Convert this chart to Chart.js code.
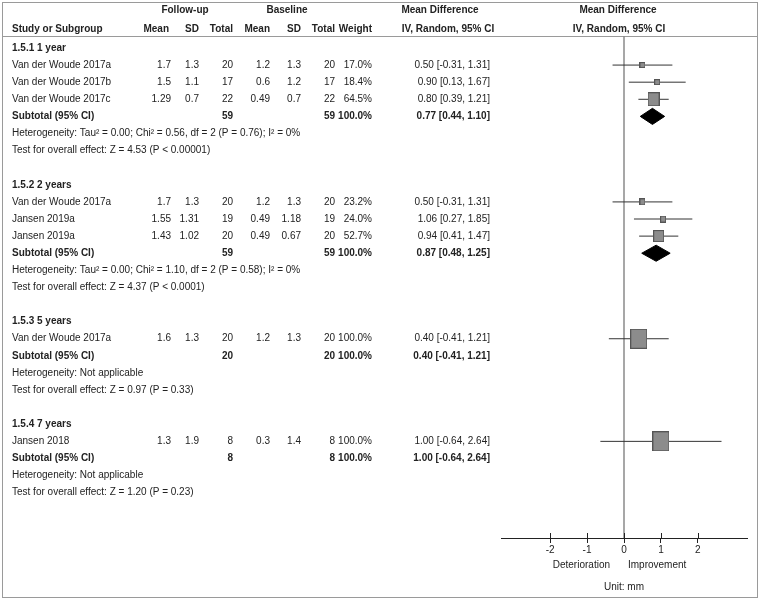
<!DOCTYPE html>
<html>
<head>
<meta charset="utf-8">
<script src="https://cdn.jsdelivr.net/npm/chart.js@4.4.1/dist/chart.umd.min.js"></script>
<style>
  html, body { margin: 0; padding: 0; background: #fff; }
</style>
</head>
<body>
<canvas id="forest" width="760" height="601"></canvas>
<script>
// ---- data ----
const groups = ['1.5.1 1 year', '1.5.2 2 years', '1.5.3 5 years', '1.5.4 7 years'];
const studyGroup = [0, 0, 0, 1, 1, 1, 2, 3];
const studyNames = ['Van der Woude 2017a', 'Van der Woude 2017b', 'Van der Woude 2017c',
  'Van der Woude 2017a', 'Jansen 2019a', 'Jansen 2019a', 'Van der Woude 2017a', 'Jansen 2018'];
const fuMean = [1.7, 1.5, 1.29, 1.7, 1.55, 1.43, 1.6, 1.3];
const fuSD = [1.3, 1.1, 0.7, 1.3, 1.31, 1.02, 1.3, 1.9];
const fuN = [20, 17, 22, 20, 19, 20, 20, 8];
const blMean = [1.2, 0.6, 0.49, 1.2, 0.49, 0.49, 1.2, 0.3];
const blSD = [1.3, 1.2, 0.7, 1.3, 1.18, 0.67, 1.3, 1.4];
const blN = [20, 17, 22, 20, 19, 20, 20, 8];
const weight = [17.0, 18.4, 64.5, 23.2, 24.0, 52.7, 100.0, 100.0];
const md = [0.50, 0.90, 0.80, 0.50, 1.06, 0.94, 0.40, 1.00];
const ciLo = [-0.31, 0.13, 0.39, -0.31, 0.27, 0.41, -0.41, -0.64];
const ciHi = [1.31, 1.67, 1.21, 1.31, 1.85, 1.47, 1.21, 2.64];

const subFuN = [59, 59, 20, 8];
const subBlN = [59, 59, 20, 8];
const subMd = [0.77, 0.87, 0.40, 1.00];
const subLo = [0.44, 0.48, -0.41, -0.64];
const subHi = [1.10, 1.25, 1.21, 2.64];
const heterogeneity = [
  'Heterogeneity: Tau\u00b2 = 0.00; Chi\u00b2 = 0.56, df = 2 (P = 0.76); I\u00b2 = 0%',
  'Heterogeneity: Tau\u00b2 = 0.00; Chi\u00b2 = 1.10, df = 2 (P = 0.58); I\u00b2 = 0%',
  'Heterogeneity: Not applicable',
  'Heterogeneity: Not applicable'
];
const overallEffect = [
  'Test for overall effect: Z = 4.53 (P < 0.00001)',
  'Test for overall effect: Z = 4.37 (P < 0.0001)',
  'Test for overall effect: Z = 0.97 (P = 0.33)',
  'Test for overall effect: Z = 1.20 (P = 0.23)'
];
const xTicks = [-2, -1, 0, 1, 2];

// ---- row layout (row units on the y scale) ----
const Y_MIN = -0.70, Y_MAX = 28.65;
const studyRow = [], subRow = [], groupRow = [], hetRow = [], testRow = [];
let r = 0;
groups.forEach((g, gi) => {
  groupRow[gi] = r++;
  studyGroup.forEach((sg, i) => { if (sg === gi) studyRow[i] = r++; });
  subRow[gi] = r++;
  hetRow[gi] = r++;
  testRow[gi] = r++;
  r++;
});

const FONT = '"Liberation Sans", Arial, sans-serif';
const INK = '#222';
const COL = { fuMean: 171, fuSD: 199, fuN: 233, blMean: 270, blSD: 301, blN: 335, weight: 372, ci: 490 };

// boxes sized by weight
function makeBox(w) {
  const s = 17 * Math.pow(w / 100, 0.75);
  const bw = Math.max(6, Math.round(s));
  const bh = Math.max(6, Math.round(s * 1.18));
  const c = document.createElement('canvas');
  c.width = bw; c.height = bh;
  const g = c.getContext('2d');
  g.fillStyle = '#8c8c8c';
  g.fillRect(0, 0, bw, bh);
  g.strokeStyle = '#555';
  g.lineWidth = 1;
  g.strokeRect(0.5, 0.5, bw - 1, bh - 1);
  return c;
}
const boxes = weight.map(makeBox);

const datasets = [];
datasets.push({
  data: md.map((v, i) => ({ x: v, y: studyRow[i] })),
  showLine: false,
  pointStyle: boxes,
  pointRadius: 6
});
md.forEach((v, i) => {
  datasets.push({
    data: [{ x: ciLo[i], y: studyRow[i] }, { x: ciHi[i], y: studyRow[i] }],
    borderColor: '#333', borderWidth: 1, pointRadius: 0
  });
});
subMd.forEach((v, gi) => {
  const n = studyGroup.filter(g => g === gi).length;
  if (n < 2) return;
  const y = subRow[gi], d = 0.47;
  datasets.push({
    data: [{ x: subLo[gi], y: y }, { x: v, y: y - d }, { x: subHi[gi], y: y },
           { x: v, y: y + d }, { x: subLo[gi], y: y }],
    borderColor: '#000', backgroundColor: '#000', borderWidth: 1,
    pointRadius: 0, fill: 'shape'
  });
});
datasets.push({
  data: [{ x: 0, y: Y_MIN }, { x: 0, y: Y_MAX }],
  borderColor: '#8a8a8a', borderWidth: 1.5, pointRadius: 0
});

function txt(ctx, s, x, y, align, bold) {
  ctx.font = (bold ? 'bold ' : '') + '10px ' + FONT;
  ctx.textAlign = align;
  ctx.textBaseline = 'middle';
  ctx.fillStyle = INK;
  ctx.fillText(s, x, y);
}

const tablePlugin = {
  id: 'table',
  beforeDraw(chart) {
    const ctx = chart.ctx;
    ctx.save();
    ctx.strokeStyle = '#9a9a9a';
    ctx.lineWidth = 1;
    ctx.strokeRect(2.5, 2.5, 755, 595);
    ctx.beginPath();
    ctx.moveTo(2.5, 36.5); ctx.lineTo(757.5, 36.5);
    ctx.stroke();
    ctx.restore();
  },
  afterDraw(chart) {
    const ctx = chart.ctx;
    const ys = chart.scales.y, xs = chart.scales.x;
    const py = v => ys.getPixelForValue(v);
    ctx.save();
    // header
    const h1 = 10, h2 = 29;
    txt(ctx, 'Follow-up', 185, h1, 'center', true);
    txt(ctx, 'Baseline', 287, h1, 'center', true);
    txt(ctx, 'Mean Difference', 440, h1, 'center', true);
    txt(ctx, 'Mean Difference', 618, h1, 'center', true);
    txt(ctx, 'Study or Subgroup', 12, h2, 'left', true);
    txt(ctx, 'Mean', COL.fuMean - 2, h2, 'right', true);
    txt(ctx, 'SD', COL.fuSD, h2, 'right', true);
    txt(ctx, 'Total', COL.fuN, h2, 'right', true);
    txt(ctx, 'Mean', COL.blMean, h2, 'right', true);
    txt(ctx, 'SD', COL.blSD, h2, 'right', true);
    txt(ctx, 'Total', COL.blN, h2, 'right', true);
    txt(ctx, 'Weight', COL.weight, h2, 'right', true);
    txt(ctx, 'IV, Random, 95% CI', 448, h2, 'center', true);
    txt(ctx, 'IV, Random, 95% CI', 619, h2, 'center', true);

    const ci = (m, lo, hi) => m.toFixed(2) + ' [' + lo.toFixed(2) + ', ' + hi.toFixed(2) + ']';
    groups.forEach((g, gi) => {
      txt(ctx, g, 12, py(groupRow[gi]), 'left', true);
      const ys2 = py(subRow[gi]);
      txt(ctx, 'Subtotal (95% CI)', 12, ys2, 'left', true);
      txt(ctx, String(subFuN[gi]), COL.fuN, ys2, 'right', true);
      txt(ctx, String(subBlN[gi]), COL.blN, ys2, 'right', true);
      txt(ctx, '100.0%', COL.weight, ys2, 'right', true);
      txt(ctx, ci(subMd[gi], subLo[gi], subHi[gi]), COL.ci, ys2, 'right', true);
      txt(ctx, heterogeneity[gi], 12, py(hetRow[gi]), 'left', false);
      txt(ctx, overallEffect[gi], 12, py(testRow[gi]), 'left', false);
    });
    studyNames.forEach((s, i) => {
      const y = py(studyRow[i]);
      txt(ctx, s, 12, y, 'left', false);
      txt(ctx, String(fuMean[i]), COL.fuMean, y, 'right', false);
      txt(ctx, String(fuSD[i]), COL.fuSD, y, 'right', false);
      txt(ctx, String(fuN[i]), COL.fuN, y, 'right', false);
      txt(ctx, String(blMean[i]), COL.blMean, y, 'right', false);
      txt(ctx, String(blSD[i]), COL.blSD, y, 'right', false);
      txt(ctx, String(blN[i]), COL.blN, y, 'right', false);
      txt(ctx, weight[i].toFixed(1) + '%', COL.weight, y, 'right', false);
      txt(ctx, ci(md[i], ciLo[i], ciHi[i]), COL.ci, y, 'right', false);
    });

    // upper half of the axis ticks and axis captions
    const bottom = chart.chartArea.bottom;
    ctx.strokeStyle = INK;
    ctx.lineWidth = 1;
    xTicks.forEach(v => {
      const px = Math.round(xs.getPixelForValue(v)) + 0.5;
      ctx.beginPath();
      ctx.moveTo(px, bottom - 5); ctx.lineTo(px, bottom);
      ctx.stroke();
    });
    const x0 = xs.getPixelForValue(0);
    txt(ctx, 'Deterioration', x0 - 14, bottom + 27, 'right', false);
    txt(ctx, 'Improvement', x0 + 4, bottom + 27, 'left', false);
    txt(ctx, 'Unit: mm', x0, bottom + 49, 'center', false);
    ctx.restore();
  }
};

new Chart(document.getElementById('forest').getContext('2d'), {
  type: 'line',
  data: { datasets: datasets },
  options: {
    responsive: false,
    animation: false,
    layout: { padding: { left: 501, right: 13, top: 36, bottom: 43 } },
    plugins: { legend: { display: false }, tooltip: { enabled: false } },
    elements: { line: { tension: 0 } },
    scales: {
      x: {
        type: 'linear',
        min: -3.33,
        max: 3.33,
        afterBuildTicks: scale => { scale.ticks = xTicks.map(v => ({ value: v })); },
        afterFit: scale => { scale.height = 20; },
        grid: { drawOnChartArea: false, drawTicks: true, tickLength: 5, color: INK },
        border: { display: true, color: INK, width: 1 },
        ticks: { color: INK, padding: 1, font: { size: 10, family: FONT }, maxRotation: 0 }
      },
      y: {
        type: 'linear',
        display: false,
        reverse: true,
        min: Y_MIN,
        max: Y_MAX
      }
    }
  },
  plugins: [tablePlugin]
});
</script>
</body>
</html>
